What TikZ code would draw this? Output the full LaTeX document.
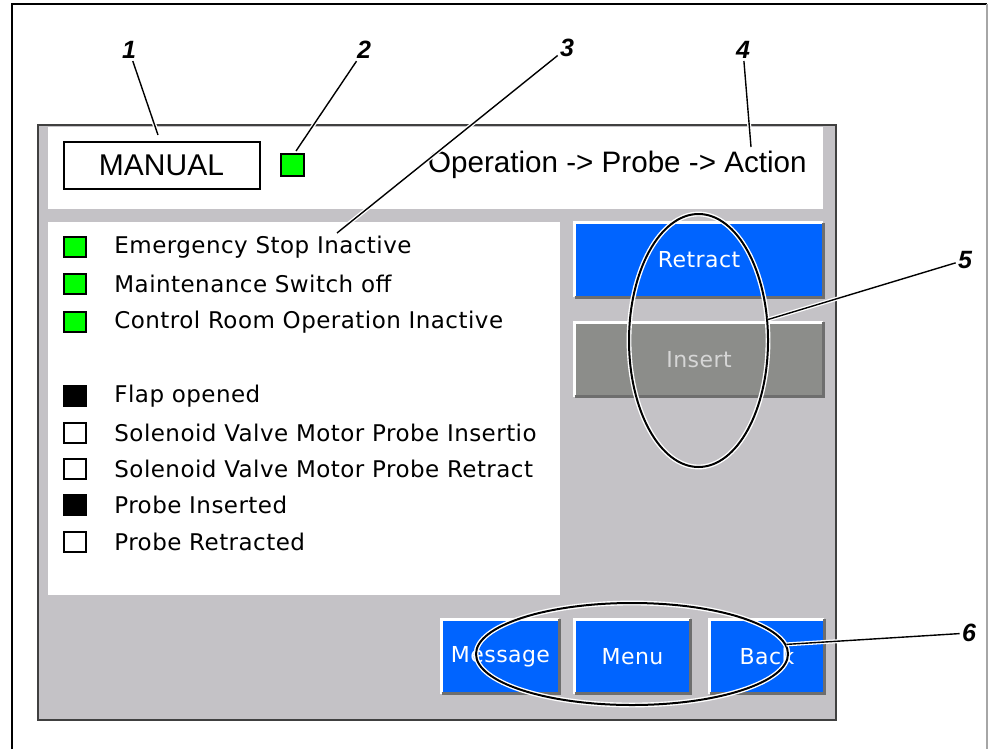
\documentclass[tikz,border=0pt]{standalone}
\usepackage{fontspec}
\setmainfont{Liberation Sans}
\newfontfamily\hmifont[LetterSpace=2]{DejaVu Sans}
\usetikzlibrary{shapes.geometric}

\definecolor{hmigray}{RGB}{196,194,198}
\definecolor{hmiblue}{RGB}{0,100,255}
\definecolor{hmidim}{RGB}{140,141,138}
\definecolor{hmidimtext}{RGB}{214,214,214}
\definecolor{hmigreen}{RGB}{0,255,0}
\definecolor{bevelshade}{RGB}{110,110,110}

\tikzset{
  lamp/.style={draw=black, line width=1pt, minimum width=11pt, minimum height=10pt, inner sep=0pt},
  status/.style={anchor=west, inner sep=0pt, font=\hmifont\fontsize{11.5}{11.5}\selectfont},
  hmibutton/.style={inner sep=0pt, minimum width=124pt, minimum height=37pt, text=white,
    font=\hmifont\fontsize{11}{11}\selectfont},
  bevel light/.style={draw=white, line width=1.5pt},
  bevel dark/.style={draw=bevelshade, line width=1.5pt},
  callout/.style={font=\bfseries\itshape\fontsize{12.5}{12.5}\selectfont, inner sep=1pt},
  leader/.style={draw=black, line width=0.7pt, preaction={draw=white, line width=2pt}},
  ring/.style={ellipse, draw=black, line width=1pt, preaction={draw=white, line width=2.4pt}, inner sep=0pt},
}

\begin{document}
\begin{tikzpicture}[x=0.5pt, y=-0.5pt]
                            \useasboundingbox (0,0) rectangle (988,749);
                            % Frame and screen:
                            \draw[line width=1pt] (12,749) -- (12,4) -- (987,4);
                            \draw[gray!70, line width=1pt] (987,4) -- (987,749);
                            \draw[fill=hmigray, draw=black!75, line width=1pt] (38,125) rectangle (836,720);
                            \fill[white] (48,127) rectangle (823,209);
                            \fill[white] (48,222) rectangle (560,595);
                            % Header:
                            \node[draw=black, line width=1pt, fill=white, minimum width=98pt, minimum height=23.5pt,
                              font=\fontsize{15}{15}\selectfont] (mode) at (161.5,165) {MANUAL};
                            \node[lamp, fill=hmigreen, minimum width=11.5pt, minimum height=11pt] (modelamp) at (292,164.5) {};
                            \node[anchor=east, inner sep=0pt, font=\fontsize{14.8}{14.8}\selectfont] (screenpath) at (807,165)
                              {Operation -> Probe -> Action};
                            % Status list:
                            \begin{scope}
                              \clip (48,222) rectangle (538,595);
                              \foreach \y/\c/\t [count=\i] in {247/hmigreen/Emergency Stop Inactive,
                                284/hmigreen/Maintenance Switch off, 322/hmigreen/Control Room Operation Inactive,
                                396/black/Flap opened, 433/white/Solenoid Valve Motor Probe Insertio,
                                469/white/Solenoid Valve Motor Probe Retract, 505/black/Probe Inserted,
                                542/white/Probe Retracted}{
                                \node[lamp, fill=\c] (lamp\i) at (75,\y) {};
                                \node[status] (state\i) at (114,\y) {\t};
                              }
                            \end{scope}
                            % Buttons:
                            \node[hmibutton, fill=hmiblue] (retract) at (699,260) {Retract};
                            \node[hmibutton, fill=hmidim, text=hmidimtext] (insert) at (699,359.5) {Insert};
                            \node[hmibutton, fill=hmiblue, minimum width=58.5pt] (message) at (500.5,656.5) {Message};
                            \node[hmibutton, fill=hmiblue, minimum width=57.5pt] (menu) at (632.5,656.5) {Menu};
                            \node[hmibutton, fill=hmiblue, minimum width=57pt] (back) at (767,656.5) {Back};
                            \foreach \b in {retract,insert,message,menu,back}{
                              \draw[bevel light] (\b.south west) |- (\b.north east);
                              \draw[bevel dark] (\b.south west) -| (\b.north east);
                            }
                            % Callouts:
                            \node[ring, minimum width=69.5pt, minimum height=126.5pt] (ring5) at (698.5,340.5) {};
                            \node[ring, minimum width=156pt, minimum height=51pt] (ring6) at (632,654) {};
                            \node[callout] (n1) at (129,50) {1};
                            \node[callout] (n2) at (364,50) {2};
                            \node[callout] (n3) at (567,48) {3};
                            \node[callout] (n4) at (743,50) {4};
                            \node[callout] (n5) at (965,260) {5};
                            \node[callout] (n6) at (969,633) {6};
                            \coordinate (c1) at (158,135);
                            \coordinate (c2) at (296,151);
                            \coordinate (c3) at (337,233);
                            \coordinate (c4) at (751,147);
                            \draw[leader] (n1) -- (c1);
                            \draw[leader] (n2) -- (c2);
                            \draw[leader] (n3) -- (c3);
                            \draw[leader] (n4) -- (c4);
                            \draw[leader] (n5) -- (ring5);
                            \draw[leader] (n6) -- (ring6);
                        \end{tikzpicture}
\end{document}
